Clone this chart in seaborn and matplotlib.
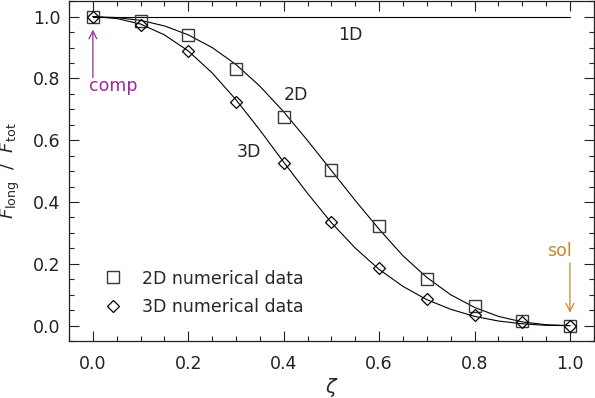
import numpy as np
import pandas as pd
import seaborn as sns
import matplotlib
matplotlib.use("Agg")
import matplotlib.pyplot as plt
from matplotlib.ticker import AutoMinorLocator, MultipleLocator

# numerical data points
zeta_data = [0.0, 0.1, 0.2, 0.3, 0.4, 0.5, 0.6, 0.7, 0.8, 0.9, 1.0]
data_2d = [1.0, 0.987, 0.939, 0.832, 0.675, 0.503, 0.323, 0.152, 0.062, 0.014, 0.0]
data_3d = [1.0, 0.974, 0.889, 0.723, 0.525, 0.336, 0.186, 0.087, 0.033, 0.011, 0.0]

# theory curves, sampled from the figure every 0.05
zeta_curve = [0.0, 0.05, 0.10, 0.15, 0.20, 0.25, 0.30, 0.35, 0.40, 0.45, 0.50,
              0.55, 0.60, 0.65, 0.70, 0.75, 0.80, 0.85, 0.90, 0.95, 1.0]
curve_2d = [1.0, 0.997, 0.988, 0.970, 0.941, 0.900, 0.845, 0.775, 0.692, 0.599, 0.502,
            0.405, 0.312, 0.226, 0.156, 0.100, 0.059, 0.030, 0.012, 0.003, 0.0]
curve_3d = [1.0, 0.994, 0.976, 0.941, 0.889, 0.818, 0.731, 0.633, 0.529, 0.428, 0.333,
            0.251, 0.182, 0.127, 0.084, 0.053, 0.030, 0.015, 0.006, 0.001, 0.0]
zeta_1d = [0.0, 1.0]
curve_1d = [1.0, 1.0]

sns.set_style("ticks", {"xtick.direction": "in", "ytick.direction": "in"})
plt.rcParams["font.family"] = ["DejaVu Sans"]
plt.rcParams["mathtext.fontset"] = "dejavusans"

fig = plt.figure(figsize=(5.95, 3.98), dpi=100)
ax = fig.add_axes([0.116, 0.143, 0.882, 0.854])

lw = 0.8
sns.lineplot(x=zeta_1d, y=curve_1d, ax=ax, color="black", lw=lw)
sns.lineplot(x=zeta_curve, y=curve_2d, ax=ax, color="black", lw=lw)
sns.lineplot(x=zeta_curve, y=curve_3d, ax=ax, color="black", lw=lw)

sns.lineplot(x=zeta_data, y=data_2d, ax=ax, marker="s", linestyle="",
             markersize=8.5, markerfacecolor="none", markeredgecolor="#3a3a3a",
             markeredgewidth=1.0, label="2D numerical data")
sns.lineplot(x=zeta_data, y=data_3d, ax=ax, marker="D", linestyle="",
             markersize=5.8, markerfacecolor="none", markeredgecolor="black",
             markeredgewidth=0.9, label="3D numerical data")

ax.set_xlim(-0.05, 1.05)
ax.set_ylim(-0.05, 1.05)
ax.xaxis.set_major_locator(MultipleLocator(0.2))
ax.yaxis.set_major_locator(MultipleLocator(0.2))
ax.xaxis.set_minor_locator(AutoMinorLocator(4))
ax.yaxis.set_minor_locator(AutoMinorLocator(4))
ax.xaxis.set_major_formatter(plt.FormatStrFormatter("%.1f"))
ax.yaxis.set_major_formatter(plt.FormatStrFormatter("%.1f"))
ax.tick_params(which="both", direction="in", top=True, right=True,
               labelsize=12.5, width=0.8, colors="#222222")
ax.tick_params(axis="x", which="major", length=7, pad=10)
ax.tick_params(axis="y", which="major", length=7, pad=6)
ax.tick_params(which="minor", length=3.5)
for s in ax.spines.values():
    s.set_linewidth(0.9)
    s.set_color("#222222")

ax.set_xlabel(r"$\zeta$", fontsize=14, labelpad=2)
ax.set_ylabel(r"$F_{\rm long}$  /  $F_{\rm tot}$", fontsize=13, labelpad=8)

ax.text(0.54, 0.94, "1D", fontsize=12.5, ha="center", va="center")
ax.text(0.425, 0.748, "2D", fontsize=12.5, ha="center", va="center")
ax.text(0.327, 0.563, "3D", fontsize=12.5, ha="center", va="center")

purple = "#9b2a9b"
orange = "#c8882a"
ax.annotate("", xy=(0.0, 0.958), xytext=(0.0, 0.803),
            arrowprops=dict(arrowstyle="->", color=purple, lw=0.9,
                            shrinkA=0, shrinkB=0, mutation_scale=14))
ax.text(-0.008, 0.775, "comp", color=purple, fontsize=12.5, ha="left", va="center")
ax.annotate("", xy=(1.0, 0.042), xytext=(1.0, 0.203),
            arrowprops=dict(arrowstyle="->", color=orange, lw=0.9,
                            shrinkA=0, shrinkB=0, mutation_scale=14))
ax.text(0.979, 0.24, "sol", color=orange, fontsize=12.5, ha="center", va="center")

ax.legend(loc="lower left", bbox_to_anchor=(0.067, 0.074), frameon=False,
          fontsize=12.5, handlelength=1.0, handletextpad=1.2,
          borderpad=0, borderaxespad=0, labelspacing=0.6)

fig.savefig("out.png", dpi=100)
